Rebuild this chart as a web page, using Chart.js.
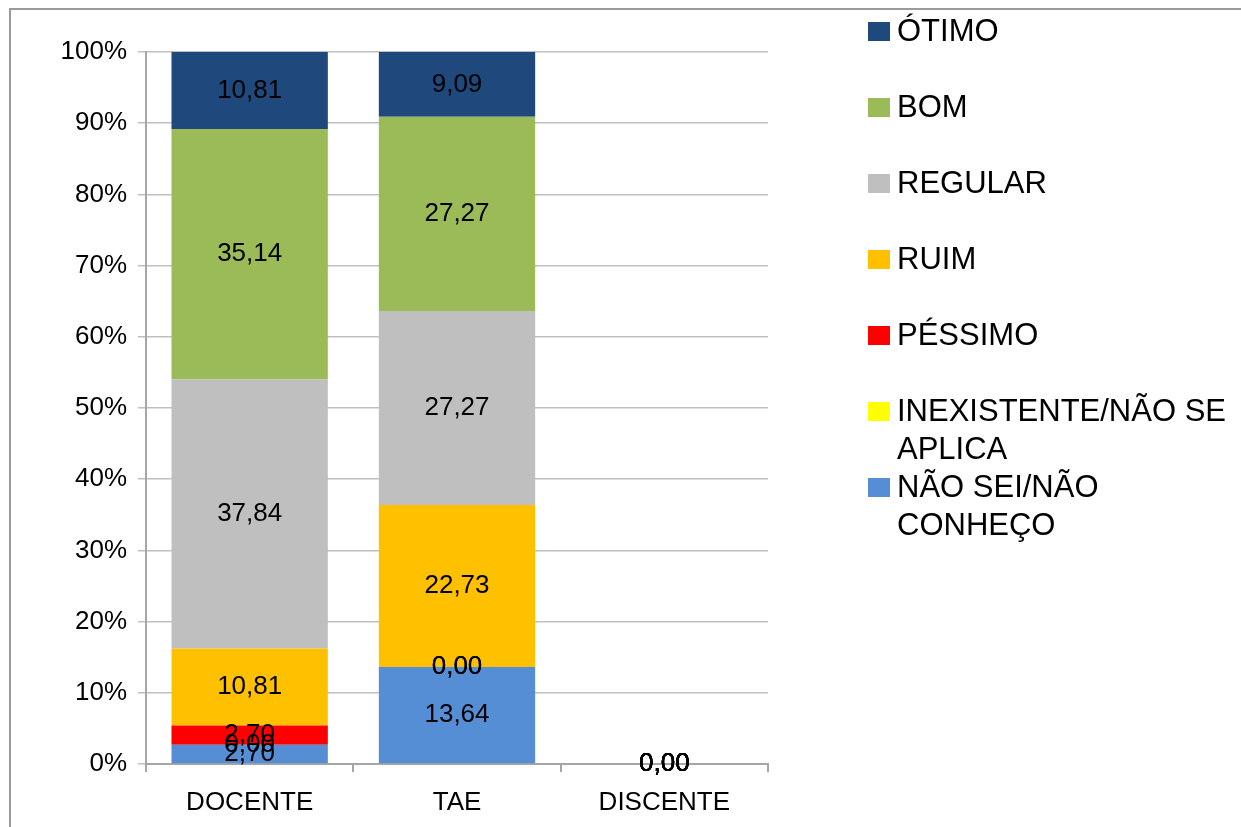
<!DOCTYPE html>
<html>
<head>
<meta charset="utf-8">
<script src="https://cdn.jsdelivr.net/npm/chart.js@4"></script>
<style>
  html,body{margin:0;padding:0;background:#fff;}
  #wrap{position:relative;width:1241px;height:827px;overflow:hidden;}
  #frame{position:absolute;left:9px;top:8px;right:-10px;bottom:-10px;border-top:2px solid #9a9a9a;border-left:2px solid #9a9a9a;}
  canvas{position:absolute;left:0;top:0;}
</style>
</head>
<body>
<div id="wrap">
  <div id="frame"></div>
  <canvas id="c" width="1241" height="827"></canvas>
</div>
<script>
// categories
const categorias = ["DOCENTE", "TAE", "DISCENTE"];

// series (bottom of stack first)
const naoSei      = [2.70, 13.64, 0.00];
const inexistente = [0.00, 0.00, 0.00];
const pessimo     = [2.70, 0.00, 0.00];
const ruim        = [10.81, 22.73, 0.00];
const regular     = [37.84, 27.27, 0.00];
const bom         = [35.14, 27.27, 0.00];
const otimo       = [10.81, 9.09, 0.00];

const yTicks = [0, 10, 20, 30, 40, 50, 60, 70, 80, 90, 100];

const series = [
  { label: "NÃO SEI/NÃO CONHEÇO", data: naoSei, color: "#558ED5" },
  { label: "INEXISTENTE/NÃO SE APLICA", data: inexistente, color: "#FFFF00" },
  { label: "PÉSSIMO", data: pessimo, color: "#FF0000" },
  { label: "RUIM", data: ruim, color: "#FFC000" },
  { label: "REGULAR", data: regular, color: "#BFBFBF" },
  { label: "BOM", data: bom, color: "#9BBB59" },
  { label: "ÓTIMO", data: otimo, color: "#1F497D" }
];

const FONT = "'Liberation Sans', Arial, sans-serif";
const fmt = v => v.toFixed(2).replace(".", ",");

// value labels centred in each segment
const valueLabels = {
  id: "valueLabels",
  afterDatasetsDraw(chart){
    const ctx = chart.ctx;
    ctx.save();
    ctx.font = "26px " + FONT;
    ctx.fillStyle = "#000";
    ctx.textAlign = "center";
    ctx.textBaseline = "middle";
    chart.data.datasets.forEach((ds, i) => {
      chart.getDatasetMeta(i).data.forEach((bar, j) => {
        const v = ds.data[j];
        if (v == null) return;
        const p = bar.getProps(["x", "y", "base"], true);
        ctx.fillText(fmt(v), p.x, (p.y + p.base) / 2);
      });
    });
    ctx.restore();
  }
};

// legend on the right, top to bottom = top of stack first
const sideLegend = {
  id: "sideLegend",
  afterDraw(chart){
    const ctx = chart.ctx;
    ctx.save();
    ctx.font = "31px " + FONT;
    ctx.textBaseline = "middle";
    ctx.textAlign = "left";
    const items = chart.data.datasets.slice().reverse();
    const maxW = 342;
    items.forEach((ds, i) => {
      const y = 32 + i * 76;
      ctx.fillStyle = ds.backgroundColor;
      ctx.fillRect(868, y - 10, 22, 19);
      // wrap text
      const words = ds.label.split(" ");
      const lines = [];
      let line = "";
      words.forEach(w => {
        const t = line ? line + " " + w : w;
        if (ctx.measureText(t).width > maxW && line) { lines.push(line); line = w; }
        else line = t;
      });
      lines.push(line);
      ctx.fillStyle = "#000";
      lines.forEach((l, k) => ctx.fillText(l, 897, y + k * 38));
    });
    ctx.restore();
  }
};

new Chart(document.getElementById("c").getContext("2d"), {
  type: "bar",
  data: {
    labels: categorias,
    datasets: series.map(s => ({
      label: s.label, data: s.data, backgroundColor: s.color,
      borderWidth: 0, categoryPercentage: 1, barPercentage: 0.754
    }))
  },
  options: {
    responsive: false, animation: false,
    layout: { padding: { left: 0, top: 52, right: 473, bottom: 0 } },
    plugins: { legend: { display: false }, tooltip: { enabled: false } },
    scales: {
      x: {
        stacked: true,
        grid: { offset: true, drawOnChartArea: false, color: "#A6A6A6", tickLength: 8, lineWidth: 2 },
        border: { color: "#A6A6A6", width: 2 },
        ticks: { color: "#000", font: { family: FONT, size: 26 }, padding: 15 },
        afterFit(s){ s.height = 63; }
      },
      y: {
        stacked: true, min: 0, max: 100,
        afterBuildTicks(s){ s.ticks = yTicks.map(v => ({ value: v })); },
        grid: { color: "#BFBFBF", tickLength: 8, lineWidth: 1.5 },
        border: { color: "#A6A6A6", width: 2 },
        ticks: { color: "#000", font: { family: FONT, size: 26 }, padding: 11, callback: v => v + "%" },
        afterFit(s){ s.width = 146; }
      }
    }
  },
  plugins: [valueLabels, sideLegend]
});
</script>
</body>
</html>
